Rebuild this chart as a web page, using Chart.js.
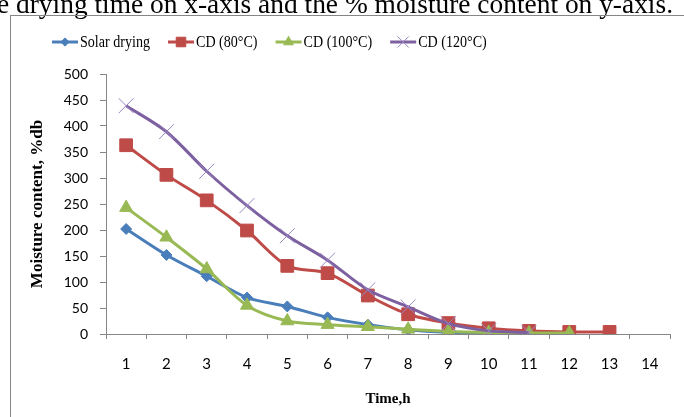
<!DOCTYPE html>
<html>
<head>
<meta charset="utf-8">
<script src="https://cdn.jsdelivr.net/npm/chart.js@4.4.0/dist/chart.umd.min.js"></script>
<style>
  html, body { margin: 0; padding: 0; background: #fff; overflow: hidden; }
  canvas { display: block; }
</style>
</head>
<body>
<canvas id="chart" width="684" height="417"></canvas>
<script>
'use strict';

// values (moisture content, %db, per hour)
var times = ['1', '2', '3', '4', '5', '6', '7', '8', '9', '10', '11', '12', '13', '14'];
var solarDrying = [202, 152, 111, 70, 53, 32, 18, 8, 3, 1];
var cd80 = [363, 306, 257, 199, 131, 117, 74, 38, 21, 11, 6, 4, 4];
var cd100 = [243, 186, 125, 55, 25, 18, 14, 9, 5, 3, 2, 2];
var cd120 = [439, 389, 313, 247, 189, 142, 85, 52, 20, 6, 3];

var caption = 'e drying time on x-axis and the % moisture content on y-axis.';

var gray = '#868686';
var serif = '"Liberation Serif", "Times New Roman", serif';
var sans = 'Lato, "Open Sans", sans-serif';

var series = [
  { label: 'Solar drying', data: solarDrying, color: '#4a7ebb', point: 'rectRot', radius: 5.5, order: 3 },
  { label: 'CD (80°C)', data: cd80, color: '#be4b48', point: 'rect', radius: 9, order: 2 },
  { label: 'CD (100°C)', data: cd100, color: '#98b954', point: 'triangle', radius: 7.5, order: 1 },
  { label: 'CD (120°C)', data: cd120, color: '#7d60a0', point: 'crossRot', radius: 10.5, order: 0 }
];

// the source picture is a bit squeezed sideways, so text is drawn narrowed
function squeezedText(c, text, x, y, sx) {
  c.save();
  c.translate(x, y);
  c.scale(sx, 1);
  c.fillText(text, 0, 0);
  c.restore();
  return c.measureText(text).width * sx;
}

// frame, caption and an Excel-like legend (line with marker in the middle)
var decor = {
  id: 'decor',
  beforeDraw: function(chart) {
    var c = chart.ctx;
    c.save();
    c.fillStyle = '#000';
    c.font = '27px ' + serif;
    c.textBaseline = 'alphabetic';
    var w = c.measureText(caption).width;
    squeezedText(c, caption, -3, 13, 676 / w);
    c.strokeStyle = gray;
    c.lineWidth = 1;
    c.strokeRect(10.5, 15.5, 720, 500);
    c.restore();
  },
  afterDraw: function(chart) {
    var c = chart.ctx;
    c.save();
    c.font = '16px ' + serif;
    c.textBaseline = 'middle';
    var x = 52;
    var y = 42;
    series.forEach(function(s) {
      c.strokeStyle = s.color;
      c.lineWidth = 3;
      c.beginPath();
      c.moveTo(x, y);
      c.lineTo(x + 26, y);
      c.stroke();
      var cross = s.point === 'crossRot';
      c.fillStyle = s.color;
      c.strokeStyle = cross ? '#9a86c2' : s.color;
      c.lineWidth = 1;
      Chart.helpers.drawPoint(c, { pointStyle: s.point, radius: s.radius * 0.75, borderWidth: 1, rotation: 0 }, x + 13, y);
      c.fillStyle = '#000';
      var tw = squeezedText(c, s.label, x + 28, y + 1, 0.88);
      x += 28 + tw + 18;
    });
    c.restore();
  }
};

var datasets = series.map(function(s) {
  var cross = s.point === 'crossRot';
  return {
    label: s.label,
    data: s.data,
    order: s.order,
    borderColor: s.color,
    backgroundColor: s.color,
    borderWidth: 3,
    tension: 0.3,
    pointStyle: s.point,
    pointRadius: s.radius,
    pointBorderWidth: 1,
    pointBackgroundColor: s.color,
    pointBorderColor: cross ? '#9a86c2' : s.color
  };
});

var ctx = document.getElementById('chart');
new Chart(ctx, {
  type: 'line',
  data: { labels: times, datasets: datasets },
  plugins: [decor],
  options: {
    responsive: false,
    animation: false,
    devicePixelRatio: 1,
    layout: { padding: { top: 74, right: 14, left: 0, bottom: 0 } },
    plugins: {
      legend: { display: false },
      tooltip: { enabled: false }
    },
    scales: {
      x: {
        offset: true,
        grid: { offset: true, drawOnChartArea: false, tickLength: 5, color: gray },
        border: { color: gray, width: 1 },
        ticks: { color: '#000', font: { family: sans, size: 15 }, padding: 16 },
        title: {
          display: true,
          text: 'Time,h',
          color: '#000',
          font: { family: serif, size: 15, weight: 'bold' },
          padding: { top: 0, bottom: 9 }
        },
        afterFit: function(scale) { scale.height = 83; }
      },
      y: {
        min: 0,
        max: 500,
        ticks: { stepSize: 50, color: '#000', font: { family: sans, size: 14 }, padding: 12 },
        grid: { drawOnChartArea: false, tickLength: 6, color: gray },
        border: { color: gray, width: 1 },
        title: {
          display: true,
          text: 'Moisture content, %db',
          color: '#000',
          font: { family: serif, size: 17, weight: 'bold' },
          padding: { top: 27, bottom: 0 }
        },
        afterFit: function(scale) { scale.width = 106; }
      }
    }
  }
});
</script>
</body>
</html>
